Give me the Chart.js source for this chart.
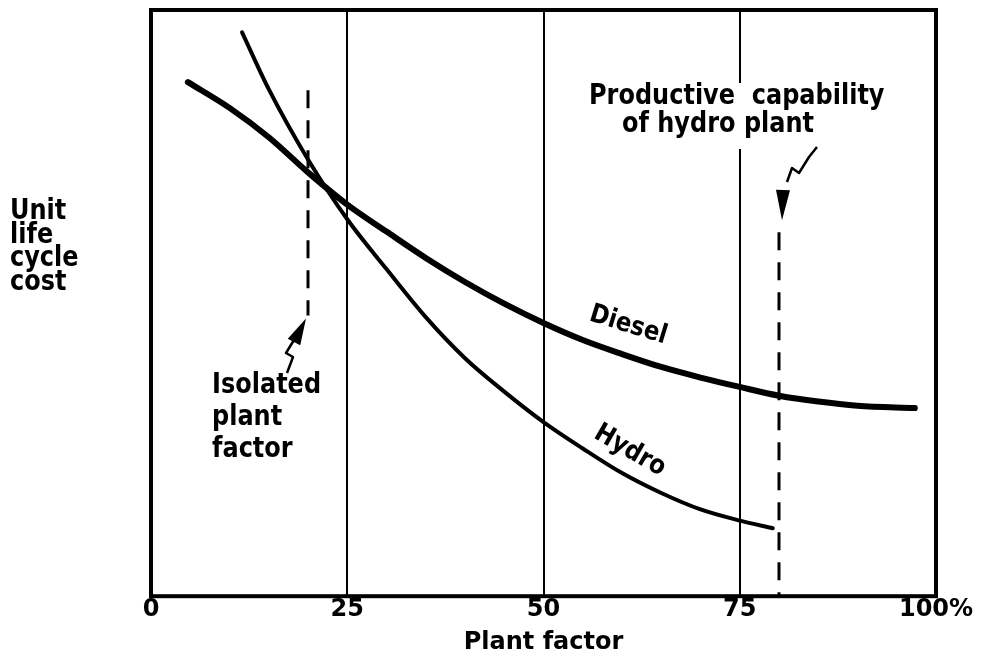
<!DOCTYPE html>
<html>
<head>
<meta charset="utf-8">
<script src="https://cdn.jsdelivr.net/npm/chart.js@4"></script>
<style>
  html, body { margin: 0; padding: 0; background: #fff; }
  #wrap { width: 988px; height: 663px; }
</style>
</head>
<body>
<div id="wrap"><canvas id="costChart"></canvas></div>
<script>
// plant factor (%) vs unit life cycle cost (relative units, 0-100)
const plantFactorTicks = [0, 25, 50, 75, 100];

const dieselFactor = [4.7, 10, 15, 20, 25, 30, 35, 40, 45, 50, 55, 60, 65, 70, 75, 80, 85, 90, 97.3];
const dieselCost   = [87.7, 83.3, 78.3, 72.3, 66.8, 62.2, 57.7, 53.6, 49.9, 46.6, 43.7, 41.3, 39.1, 37.3, 35.7, 34.2, 33.2, 32.5, 32.1];

const hydroFactor = [11.6, 15, 20, 25, 30, 35, 40, 45, 50, 55, 60, 65, 70, 75, 79.2];
const hydroCost   = [96.2, 86.5, 74.5, 64.3, 55.8, 47.6, 40.6, 34.9, 29.7, 25.2, 21.0, 17.6, 14.8, 12.9, 11.6];

// dashed markers
const isolatedFactor = 20;
const isolatedSpan = [86.3, 47.9];
const capabilityFactor = 80;
const capabilitySpan = [62.1, 0];

const FONT = '"DejaVu Sans", sans-serif';
const STRETCH = 1.15; // lettering is a bit taller than the font

function pts(xs, ys) {
  return xs.map((x, i) => ({ x: x, y: ys[i] }));
}

function drawText(ctx, lines, x, y, lh, align) {
  ctx.save();
  ctx.translate(x, y);
  ctx.scale(1, STRETCH);
  ctx.textAlign = align || 'left';
  ctx.textBaseline = 'middle';
  lines.forEach((t, i) => ctx.fillText(t, 0, i * lh / STRETCH));
  ctx.restore();
}

function drawArrow(ctx, path, tip, base) {
  // zigzag shaft then a filled head
  ctx.beginPath();
  ctx.moveTo(path[0][0], path[0][1]);
  for (let i = 1; i < path.length; i++) ctx.lineTo(path[i][0], path[i][1]);
  ctx.lineWidth = 2.5;
  ctx.lineJoin = 'round';
  ctx.stroke();
  const dx = tip[0] - base[0], dy = tip[1] - base[1];
  const len = Math.hypot(dx, dy);
  const nx = -dy / len * 7, ny = dx / len * 7;
  ctx.beginPath();
  ctx.moveTo(tip[0], tip[1]);
  ctx.lineTo(base[0] + nx, base[1] + ny);
  ctx.lineTo(base[0] - nx, base[1] - ny);
  ctx.closePath();
  ctx.fill();
}

const labelsPlugin = {
  id: 'labels',
  afterDatasetsDraw(chart) {
    const { ctx, chartArea, scales } = chart;
    const xs = scales.x, ys = scales.y;
    const px = v => xs.getPixelForValue(v);
    const py = v => ys.getPixelForValue(v);

    ctx.save();
    ctx.fillStyle = '#000';
    ctx.strokeStyle = '#000';

    // frame
    ctx.lineWidth = 4;
    ctx.strokeRect(chartArea.left, chartArea.top, chartArea.right - chartArea.left, chartArea.bottom - chartArea.top);

    ctx.font = 'bold 24px ' + FONT;

    // productive capability note, on a white patch
    const cx = px(capabilityFactor);
    ctx.fillStyle = '#fff';
    ctx.fillRect(cx - 192, 83, 312, 66);
    ctx.fillStyle = '#000';
    drawText(ctx, ['Productive  capability'], cx - 190, 97, 0);
    drawText(ctx, ['of hydro plant'], cx - 157, 125, 0);
    drawArrow(ctx,
      [[cx + 38, 147], [cx + 30, 157], [cx + 20, 173], [cx + 13, 168], [cx + 8, 182]],
      [cx + 3, py(capabilitySpan[0]) - 12], [cx + 4, 190]);

    // isolated plant factor note
    const ix = px(isolatedFactor);
    drawText(ctx, ['Isolated', 'plant', 'factor'], ix - 96, 386, 32);
    drawArrow(ctx,
      [[ix - 21, 373], [ix - 15, 357], [ix - 22, 353], [ix - 14, 340]],
      [ix - 2, py(isolatedSpan[1]) + 3], [ix - 14, 342]);

    // y axis caption
    drawText(ctx, ['Unit', 'life', 'cycle', 'cost'], 10, 212, 23.5);

    // curve names
    ctx.font = 'bold 23px ' + FONT;
    ctx.save();
    ctx.translate(px(60.8), py(46.2));
    ctx.rotate(17 * Math.PI / 180);
    drawText(ctx, ['Diesel'], 0, 0, 0, 'center');
    ctx.restore();
    ctx.save();
    ctx.translate(px(61.0), py(24.8));
    ctx.rotate(30 * Math.PI / 180);
    drawText(ctx, ['Hydro'], 0, 0, 0, 'center');
    ctx.restore();

    ctx.restore();
  }
};

new Chart(document.getElementById('costChart'), {
  type: 'line',
  data: {
    datasets: [
      {
        label: 'Diesel',
        data: pts(dieselFactor, dieselCost),
        borderColor: '#000',
        borderWidth: 6,
        cubicInterpolationMode: 'monotone',
        borderCapStyle: 'round',
        pointRadius: 0
      },
      {
        label: 'Hydro',
        data: pts(hydroFactor, hydroCost),
        borderColor: '#000',
        borderWidth: 4,
        cubicInterpolationMode: 'monotone',
        borderCapStyle: 'round',
        pointRadius: 0
      },
      {
        label: 'Isolated plant factor',
        data: pts([isolatedFactor, isolatedFactor], isolatedSpan),
        borderColor: '#000',
        borderWidth: 3,
        borderDash: [18, 12],
        pointRadius: 0
      },
      {
        label: 'Productive capability',
        data: pts([capabilityFactor, capabilityFactor], capabilitySpan),
        borderColor: '#000',
        borderWidth: 3,
        borderDash: [18, 12],
        pointRadius: 0
      }
    ]
  },
  options: {
    responsive: true,
    maintainAspectRatio: false,
    animation: false,
    layout: { padding: { left: 151, right: 52, top: 10, bottom: 0 } },
    plugins: { legend: { display: false }, tooltip: { enabled: false } },
    scales: {
      x: {
        type: 'linear',
        min: 0,
        max: 100,
        afterBuildTicks(axis) {
          axis.ticks = plantFactorTicks.map(v => ({ value: v }));
        },
        ticks: {
          color: '#000',
          font: { family: FONT, size: 24, weight: 'bold', lineHeight: 1 },
          padding: 2,
          maxRotation: 0,
          callback: v => (v === 100 ? '100%' : String(v))
        },
        grid: {
          drawTicks: false,
          lineWidth: 2,
          color: ctx => (ctx.tick && ctx.tick.value > 0 && ctx.tick.value < 100 ? '#000' : 'rgba(0,0,0,0)')
        },
        border: { display: false },
        title: {
          display: true,
          text: 'Plant factor',
          color: '#000',
          font: { family: FONT, size: 24, weight: 'bold', lineHeight: 1.2 },
          padding: { top: 4, bottom: 6 }
        }
      },
      y: {
        display: false,
        min: 0,
        max: 100
      }
    }
  },
  plugins: [labelsPlugin]
});
</script>
</body>
</html>
